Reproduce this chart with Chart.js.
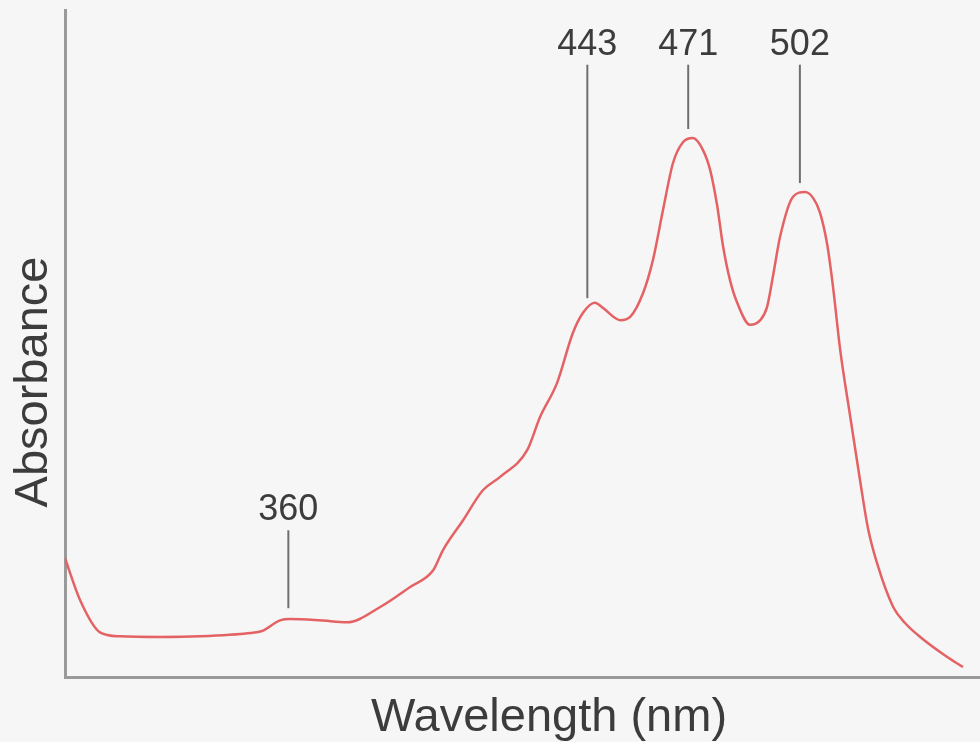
<!DOCTYPE html>
<html>
<head>
<meta charset="utf-8">
<script src="https://cdn.jsdelivr.net/npm/chart.js@4.4.0/dist/chart.umd.min.js"></script>
<style>
  body { margin: 0; background: #f6f6f6; }
  #wrap { width: 980px; height: 742px; }
</style>
</head>
<body>
<div id="wrap"><canvas id="grafico"></canvas></div>
<script>
// comprimento de onda (nm) e absorbância
const comprimentos = [298, 302.2, 307.7, 313.3, 324.4, 335.5, 349.4, 352.7, 357.7, 360.5, 368.8, 376.3,
  385.5, 393.8, 400.2, 402.9, 408.5, 414.0, 418.8, 426.3, 429.9, 434.6, 439.0, 441.8, 445.1, 447.4,
  452.1, 454.9, 458.5, 461.2, 464.0, 466.8, 469.6, 472.3, 475.1, 477.1, 479.0, 480.7, 482.6, 484.6,
  488.2, 491.0, 492.9, 494.6, 496.5, 500.1, 503.4, 505.7, 507.6, 509.6, 511.2, 513.2, 515.9, 518.7,
  520.9, 523.4, 527.9, 531.2, 535.4, 542.9, 547.3];
const absorbancia = [0.178, 0.115, 0.067, 0.061, 0.060, 0.061, 0.066, 0.069, 0.085, 0.087, 0.085, 0.082,
  0.105, 0.135, 0.160, 0.190, 0.235, 0.280, 0.300, 0.340, 0.390, 0.441, 0.516, 0.546, 0.561, 0.553,
  0.535, 0.540, 0.576, 0.625, 0.700, 0.771, 0.802, 0.808, 0.790, 0.760, 0.708, 0.645, 0.595, 0.561,
  0.528, 0.535, 0.555, 0.603, 0.660, 0.720, 0.727, 0.718, 0.696, 0.648, 0.585, 0.490, 0.393, 0.295,
  0.223, 0.171, 0.105, 0.081, 0.060, 0.030, 0.015];

// picos marcados e altura do rótulo
const picos = [360, 443, 471, 502];
const nivelRotulo = [0.25, 0.948, 0.948, 0.948];

const tituloX = 'Wavelength (nm)';
const tituloY = 'Absorbance';

const corTexto = '#3c3c3c';
const corEixo = '#9a9a9a';
const fonte = '"Liberation Sans", Arial, sans-serif';

function interpolar(nm) {
  for (let i = 1; i < comprimentos.length; i++) {
    if (nm <= comprimentos[i]) {
      const t = (nm - comprimentos[i - 1]) / (comprimentos[i] - comprimentos[i - 1]);
      return absorbancia[i - 1] + t * (absorbancia[i] - absorbancia[i - 1]);
    }
  }
  return absorbancia[absorbancia.length - 1];
}

const rotulosPicos = {
  id: 'rotulosPicos',
  afterDatasetsDraw(chart) {
    const { ctx, scales: { x, y } } = chart;
    ctx.save();
    ctx.font = '36px ' + fonte;
    ctx.fillStyle = corTexto;
    ctx.textAlign = 'center';
    ctx.textBaseline = 'middle';
    ctx.strokeStyle = '#6f6f6f';
    ctx.lineWidth = 2;
    picos.forEach((nm, i) => {
      const px = x.getPixelForValue(nm);
      const yTexto = y.getPixelForValue(nivelRotulo[i]);
      const yCurva = y.getPixelForValue(interpolar(nm));
      ctx.fillText(String(nm), px, yTexto);
      ctx.beginPath();
      ctx.moveTo(px, yTexto + 20);
      ctx.lineTo(px, yCurva - 11);
      ctx.stroke();
    });

    // títulos dos eixos (deslocados como na figura original)
    ctx.font = '47px ' + fonte;
    ctx.textBaseline = 'alphabetic';
    ctx.fillText(tituloX, 549, 731);
    ctx.translate(47, 382);
    ctx.rotate(-Math.PI / 2);
    ctx.fillText(tituloY, 0, 0);
    ctx.restore();
  }
};

const ctx = document.getElementById('grafico').getContext('2d');
new Chart(ctx, {
  type: 'line',
  data: {
    datasets: [{
      data: comprimentos.map((c, i) => ({ x: c, y: absorbancia[i] })),
      borderColor: '#e46264',
      borderWidth: 2.5,
      pointRadius: 0,
      fill: false,
      cubicInterpolationMode: 'monotone'
    }]
  },
  options: {
    responsive: true,
    maintainAspectRatio: false,
    animation: false,
    layout: { padding: { top: 10, right: 0, bottom: 65, left: 65 } },
    plugins: { legend: { display: false }, tooltip: { enabled: false } },
    scales: {
      x: {
        type: 'linear',
        min: 298,
        max: 552,
        grid: { display: false, drawTicks: false },
        border: { display: true, color: corEixo, width: 3 },
        ticks: { display: false }
      },
      y: {
        min: 0,
        max: 1,
        grid: { display: false, drawTicks: false },
        border: { display: true, color: corEixo, width: 3 },
        ticks: { display: false }
      }
    }
  },
  plugins: [rotulosPicos]
});
</script>
</body>
</html>
